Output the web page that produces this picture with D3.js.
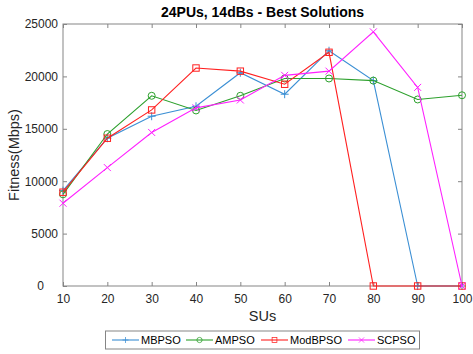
<!DOCTYPE html>
<html>
<head>
<meta charset="utf-8">
<script src="https://cdn.jsdelivr.net/npm/d3@7"></script>
<style>
  body { margin: 0; background: #fff; }
  svg { font-family: "Liberation Sans", Arial, sans-serif; }
</style>
</head>
<body>
<div id="chart"></div>
<script>
// data
var sus = [10, 20, 30, 40, 50, 60, 70, 80, 90, 100];
var mbpso = [9100, 14100, 16200, 17150, 20350, 18300, 22450, 19600, 0, 0];
var ampso = [8750, 14500, 18150, 16750, 18150, 19800, 19800, 19600, 17800, 18200];
var modbpso = [8950, 14100, 16800, 20800, 20500, 19250, 22300, 0, 0, 0];
var scpso = [7900, 11300, 14650, 17000, 17750, 20100, 20500, 24250, 18950, 0];
var yTicks = [0, 5000, 10000, 15000, 20000, 25000];

var series = [
  {name: "MBPSO", values: mbpso, color: "#3b8fd4", marker: "plus"},
  {name: "AMPSO", values: ampso, color: "#2ca02c", marker: "circle"},
  {name: "ModBPSO", values: modbpso, color: "#ff2020", marker: "square"},
  {name: "SCPSO", values: scpso, color: "#ff20ff", marker: "cross"}
];

var svgWidth = 473;
var svgHeight = 354;
var margin = {top: 24, right: 11, bottom: 68, left: 63};
var width = svgWidth - margin.left - margin.right;
var height = svgHeight - margin.top - margin.bottom;

var svg = d3.select("#chart")
  .append("svg")
  .attr("width", svgWidth)
  .attr("height", svgHeight);

var chartGroup = svg.append("g")
  .attr("transform", `translate(${margin.left}, ${margin.top})`);

var x = d3.scaleLinear().domain([10, 100]).range([0, width]);
var y = d3.scaleLinear().domain([0, 25000]).range([height, 0]);

var axisColor = "#858585";
var textColor = "#262626";

function styleAxis(g) {
  g.select(".domain").remove();
  g.selectAll(".tick line").attr("stroke", axisColor);
  g.selectAll(".tick text").attr("fill", textColor).style("font-size", "12px");
}

// bottom and left axes
chartGroup.append("g")
  .attr("transform", `translate(0, ${height})`)
  .call(d3.axisBottom(x).tickValues(sus).tickSize(-4).tickPadding(8))
  .call(styleAxis);

var yAxis = chartGroup.append("g")
  .call(d3.axisLeft(y).tickValues(yTicks).tickSize(-4).tickPadding(5).tickFormat(d3.format("d")))
  .call(styleAxis);
// the zero label sits further left in the original
yAxis.selectAll(".tick text").filter(d => d === 0).attr("dx", -14);

// top and right ticks (box on)
chartGroup.append("g")
  .call(d3.axisTop(x).tickValues(sus).tickSize(-4).tickFormat(""))
  .call(styleAxis);

chartGroup.append("g")
  .attr("transform", `translate(${width}, 0)`)
  .call(d3.axisRight(y).tickValues(yTicks).tickSize(-4).tickFormat(""))
  .call(styleAxis);

chartGroup.append("rect")
  .attr("width", width)
  .attr("height", height)
  .attr("fill", "none")
  .attr("stroke", axisColor)
  .attr("stroke-width", 1);

var line = d3.line()
  .x((d, i) => x(sus[i]))
  .y(d => y(d));

function drawMarker(g, type, color) {
  if (type === "plus") {
    g.append("path").attr("d", "M-4,0H4M0,-4V4");
  } else if (type === "circle") {
    g.append("circle").attr("r", 3.5).attr("fill", "none");
  } else if (type === "square") {
    g.append("rect").attr("x", -3.2).attr("y", -3.2).attr("width", 6.4).attr("height", 6.4).attr("fill", "none");
  } else {
    g.append("path").attr("d", "M-3.5,-3.5L3.5,3.5M-3.5,3.5L3.5,-3.5");
  }
  g.selectAll("*").attr("stroke", color).attr("stroke-width", 1);
}

series.forEach(function(s) {
  chartGroup.append("path")
    .datum(s.values)
    .attr("fill", "none")
    .attr("stroke", s.color)
    .attr("stroke-width", 1.1)
    .attr("d", line);

  s.values.forEach(function(v, i) {
    var m = chartGroup.append("g")
      .attr("transform", `translate(${x(sus[i])}, ${y(v)})`);
    drawMarker(m, s.marker, s.color);
  });
});

// title
svg.append("text")
  .attr("x", margin.left + width / 2)
  .attr("y", 17)
  .attr("text-anchor", "middle")
  .style("font-size", "14px")
  .style("font-weight", "bold")
  .attr("fill", "#000")
  .text("24PUs, 14dBs - Best Solutions");

// axis labels
svg.append("text")
  .attr("x", margin.left + width / 2)
  .attr("y", 321)
  .attr("text-anchor", "middle")
  .style("font-size", "14.5px")
  .attr("fill", textColor)
  .text("SUs");

svg.append("text")
  .attr("transform", "rotate(-90)")
  .attr("x", -(margin.top + height / 2))
  .attr("y", 19)
  .attr("text-anchor", "middle")
  .style("font-size", "14.5px")
  .attr("fill", textColor)
  .text("Fitness(Mbps)");

// legend
var legend = svg.append("g");
legend.append("rect")
  .attr("x", 105.5)
  .attr("y", 331)
  .attr("width", 314)
  .attr("height", 18)
  .attr("fill", "#fff")
  .attr("stroke", axisColor);

var legendX = [112, 186, 261, 348];
series.forEach(function(s, i) {
  var lx = legendX[i];
  legend.append("line")
    .attr("x1", lx).attr("x2", lx + 27)
    .attr("y1", 340).attr("y2", 340)
    .attr("stroke", s.color)
    .attr("stroke-width", 1.1);
  var m = legend.append("g");
  drawMarker(m, s.marker, s.color);
  m.attr("transform", `translate(${lx + 13.5}, 340) scale(0.75)`);
  legend.append("text")
    .attr("x", lx + 29)
    .attr("y", 344)
    .style("font-size", "11px")
    .attr("fill", "#000")
    .text(s.name);
});
</script>
</body>
</html>
